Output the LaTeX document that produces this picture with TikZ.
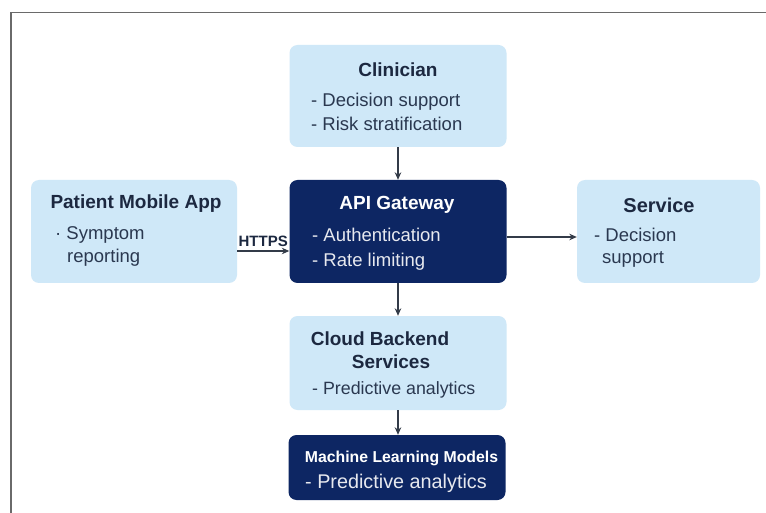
\documentclass[tikz,border=0pt]{standalone}
\usepackage{fontspec}
\setmainfont{Liberation Sans}
\usetikzlibrary{arrows.meta}
\definecolor{boxlight}{HTML}{CFE8F8}
\definecolor{navy}{HTML}{0D2663}
\definecolor{ink}{HTML}{1C2840}
\definecolor{inkitem}{HTML}{2A3850}
\definecolor{frame}{HTML}{6A6A6A}
\definecolor{arrowc}{HTML}{333B48}
\begin{document}
\begin{tikzpicture}[x=1pt,y=-1pt,
  lightbox/.style={rounded corners=8pt, fill=boxlight, draw=none, inner sep=0pt},
  darkbox/.style={rounded corners=8pt, fill=navy, draw=none, inner sep=0pt},
  ttl/.style={font=\fontsize{19}{22}\selectfont\bfseries, text=ink, inner sep=0pt, anchor=base},
  itm/.style={font=\fontsize{18.5}{22}\selectfont, text=inkitem, inner sep=0pt, anchor=base west},
  dttl/.style={ttl, text=white},
  ditm/.style={itm, text=white!90!navy},
  conn/.style={draw=arrowc, line width=1.4pt, -{Stealth[length=7.5pt,width=6.5pt]}}
]
\useasboundingbox (0,0) rectangle (766,513);
\fill[white] (0,0) rectangle (766,513);
\draw[frame, line width=1.3pt] (11,513) -- (11,12.5) -- (766,12.5);

% boxes
\node[lightbox, minimum width=217pt, minimum height=102pt] (clin) at (398,96) {};
\node[lightbox, minimum width=206pt, minimum height=103pt] (pat) at (134,231.5) {};
\node[darkbox, minimum width=217pt, minimum height=103pt] (api) at (398,231.5) {};
\node[lightbox, minimum width=183pt, minimum height=103pt] (srv) at (668.5,231.5) {};
\node[lightbox, minimum width=217pt, minimum height=94pt] (cloud) at (398,363) {};
\node[darkbox, minimum width=217pt, minimum height=65pt] (ml) at (397,467.5) {};

% clinician text
\node[ttl] (clinT) at (398,77) {Clinician};
\node[itm] (clinA) at (311,106.5) {- Decision support};
\node[itm] (clinB) at (311,130.5) {- Risk stratification};

% patient text
\node[ttl] (patT) at (136,208.5) {Patient Mobile App};
\node[itm] (patA) at (55,240) {· Symptom};
\node[itm] (patB) at (67,263) {reporting};

% api text
\node[dttl] (apiT) at (397,209.5) {API Gateway};
\node[ditm] (apiA) at (312,242) {- Authentication};
\node[ditm] (apiB) at (312,266.5) {- Rate limiting};

% service text
\node[ttl, font=\fontsize{20}{22}\selectfont\bfseries] (srvT) at (659,212.5) {Service};
\node[itm] (srvA) at (594,242) {- Decision};
\node[itm] (srvB) at (602,263.5) {support};

% cloud text
\node[ttl] (cloudT) at (380,345) {Cloud Backend};
\node[ttl] (cloudU) at (391,368) {Services};
\node[itm, font=\fontsize{17.8}{22}\selectfont] (cloudA) at (312,394) {- Predictive analytics};

% ml text
\node[dttl, font=\fontsize{15.8}{18}\selectfont\bfseries] (mlT) at (401.5,462) {Machine Learning Models};
\node[ditm, font=\fontsize{19.8}{22}\selectfont] (mlA) at (305,488) {- Predictive analytics};

% connectors
\draw[conn] (clin.south) -- (api.north);
\draw[conn] (api.south) -- (cloud.north);
\draw[conn] (cloud.south) -- (ml.north -| cloud.south);
\draw[conn] (pat.east |- 0,251) -- node[above=4pt, font=\fontsize{15}{17}\selectfont\bfseries, text=ink, inner sep=0pt] (https) {HTTPS} (api.west |- 0,251);
\draw[conn] (api.east |- 0,237) -- (srv.west |- 0,237);
\end{tikzpicture}
\end{document}
